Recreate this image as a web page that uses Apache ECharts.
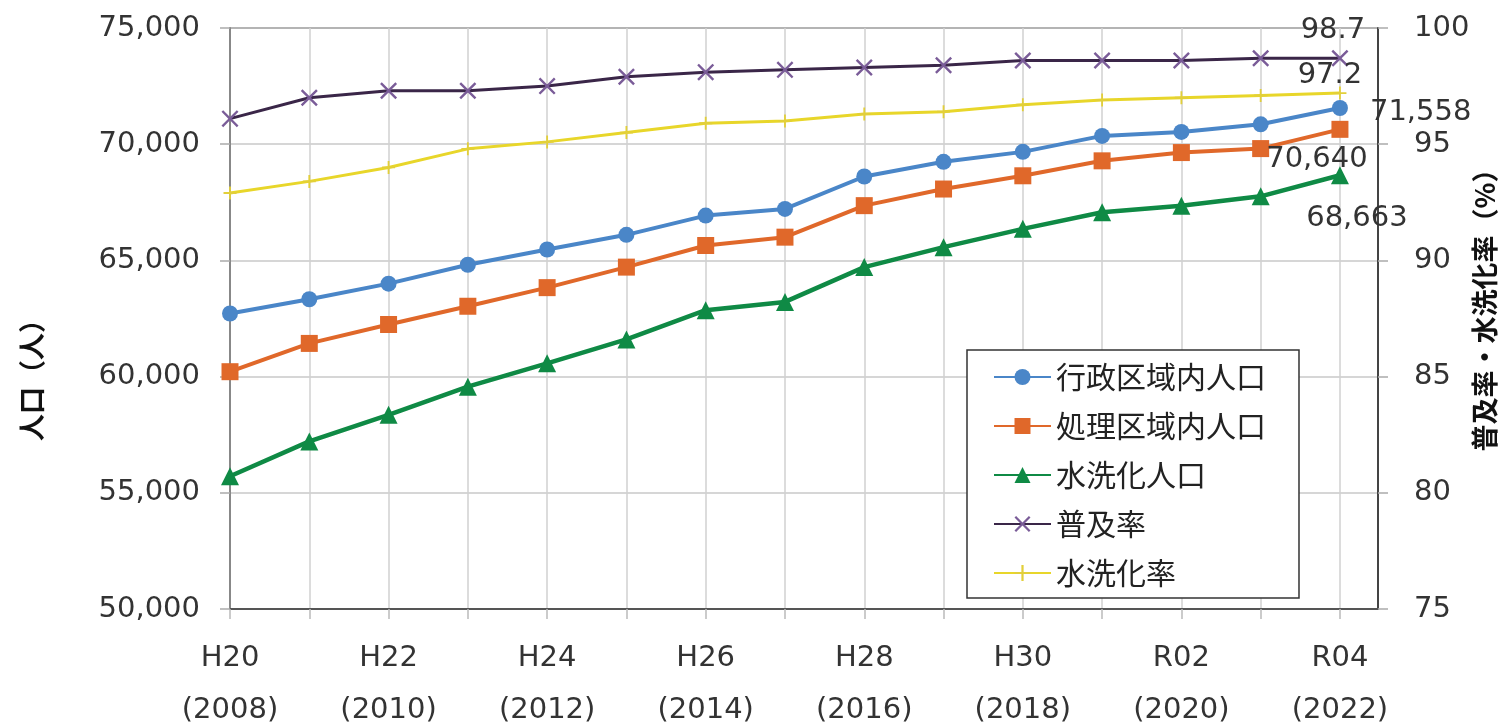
<!DOCTYPE html>
<html>
<head>
<meta charset="utf-8">
<script src="https://cdn.jsdelivr.net/npm/echarts@6/dist/echarts.min.js"></script>
<style>
html,body{margin:0;padding:0;background:#fff;}
#chart{width:1503px;height:724px;}
</style>
</head>
<body>
<div id="chart"></div>
<script>
// ---- data ----
const eras = ['H20','H21','H22','H23','H24','H25','H26','H27','H28','H29','H30','R01','R02','R03','R04'];
const years = ['2008','2009','2010','2011','2012','2013','2014','2015','2016','2017','2018','2019','2020','2021','2022'];
const gyouseiPop = [62714, 63327, 64000, 64814, 65470, 66100, 66927, 67214, 68611, 69241, 69670, 70357, 70528, 70857, 71558];
const shoriPop   = [60211, 61428, 62242, 63027, 63828, 64711, 65641, 66000, 67356, 68071, 68641, 69284, 69640, 69811, 70640];
const suisenPop  = [55711, 57211, 58355, 59568, 60571, 61600, 62857, 63214, 64711, 65570, 66357, 67070, 67356, 67757, 68663];
const fukyuRate  = [96.1, 97.0, 97.3, 97.3, 97.5, 97.9, 98.1, 98.2, 98.3, 98.4, 98.6, 98.6, 98.6, 98.7, 98.7];
const suisenRate = [92.9, 93.4, 94.0, 94.8, 95.1, 95.5, 95.9, 96.0, 96.3, 96.4, 96.7, 96.9, 97.0, 97.1, 97.2];
const seriesNames = ['行政区域内人口','処理区域内人口','水洗化人口','普及率','水洗化率'];
const leftTicks = [50000, 55000, 60000, 65000, 70000, 75000];
const rightTicks = [75, 80, 85, 90, 95, 100];

const FONT = 'DejaVu Sans';
const CJK = '"Noto Sans CJK JP", "DejaVu Sans"';
const fmtNum = v => Number(v).toLocaleString('en-US');

const X_SYM = 'path://M0,1 L1,0 L5,4 L9,0 L10,1 L6,5 L10,9 L9,10 L5,6 L1,10 L0,9 L4,5 Z';
const PLUS_SYM = 'path://M4.3,0 H5.7 V4.3 H10 V5.7 H5.7 V10 H4.3 V5.7 H0 V4.3 H4.3 Z';

function build(values, lastLabel, isRate) {
  return values.map((v, i) => {
    if (i === values.length - 1 && lastLabel) {
      return { value: [i, v], label: Object.assign({
        show: true,
        fontFamily: FONT, fontSize: 29, color: '#333',
        formatter: () => isRate ? v.toFixed(1) : fmtNum(v)
      }, lastLabel) };
    }
    return [i, v];
  });
}

const chart = echarts.init(document.getElementById('chart'), null, {renderer: 'canvas'});
chart.setOption({
  animation: false,
  backgroundColor: '#fff',
  grid: { left: 230, right: 125, top: 28, bottom: 115, outerBoundsMode: 'none', containLabel: false,
          show: true, borderColor: '#777', borderWidth: 2, backgroundColor: 'transparent' },
  legend: {
    orient: 'vertical', left: 967, top: 350,
    padding: [12, 33, 10, 26],
    itemWidth: 57, itemHeight: 20, itemGap: 19,
    borderColor: '#333', borderWidth: 1.5,
    backgroundColor: '#fff',
    textStyle: { fontFamily: CJK, fontSize: 30, color: '#222', lineHeight: 30 },
    data: seriesNames
  },
  xAxis: {
    type: 'value', min: 0, max: 14.48, interval: 1,
    axisLine: { show: true, lineStyle: { color: '#555', width: 2 } },
    axisTick: { show: true, length: 10, lineStyle: { color: '#bbb', width: 1.5 } },
    splitLine: { show: true, lineStyle: { color: '#d0d0d0', width: 1.5 } },
    axisLabel: {
      margin: 23, fontFamily: FONT, fontSize: 29, color: '#333', lineHeight: 52,
      showMaxLabel: false,
      formatter: v => (Number.isInteger(v) && v % 2 === 0 && eras[v]) ? eras[v] + '\n(' + years[v] + ')' : ''
    }
  },
  yAxis: [
    {
      type: 'value', min: leftTicks[0], max: leftTicks[leftTicks.length - 1], interval: 5000,
      name: '人口（人）', nameLocation: 'middle', nameRotate: 90, nameGap: 185, nameMoveOverlap: false,
      nameTextStyle: { fontFamily: CJK, fontSize: 27, fontWeight: 'bold', color: '#111', padding: [0, 110, 0, 0] },
      axisLine: { show: true, lineStyle: { color: '#888', width: 2 } },
      axisTick: { show: true, length: 10, lineStyle: { color: '#aaa', width: 1.5 } },
      splitLine: { show: true, lineStyle: { color: '#c8c8c8', width: 1.5 } },
      axisLabel: { margin: 30, fontFamily: FONT, fontSize: 29, color: '#333', formatter: v => fmtNum(v) }
    },
    {
      type: 'value', min: rightTicks[0], max: rightTicks[rightTicks.length - 1], interval: 5,
      name: '普及率・水洗化率（%）', nameLocation: 'middle', nameRotate: 90, nameGap: 93, nameMoveOverlap: false,
      nameTextStyle: { fontFamily: CJK, fontSize: 27, fontWeight: 'bold', color: '#111', padding: [0, 0, 0, 30] },
      axisLine: { show: true, lineStyle: { color: '#444', width: 2 } },
      axisTick: { show: true, length: 10, lineStyle: { color: '#aaa', width: 1.5 } },
      splitLine: { show: false },
      axisLabel: { margin: 36, fontFamily: FONT, fontSize: 29, color: '#333' }
    }
  ],
  series: [
    {
      name: seriesNames[0], type: 'line', yAxisIndex: 0,
      data: build(gyouseiPop, { position: 'right', distance: 22, offset: [0, 4] }, false),
      symbol: 'circle', symbolSize: 16,
      lineStyle: { color: '#4a86c8', width: 4 },
      itemStyle: { color: '#4a86c8' }
    },
    {
      name: seriesNames[1], type: 'line', yAxisIndex: 0,
      data: build(shoriPop, { position: 'bottom', distance: 7, offset: [-23, 0] }, false),
      symbol: 'rect', symbolSize: 17,
      lineStyle: { color: '#e0682a', width: 4 },
      itemStyle: { color: '#e0682a' }
    },
    {
      name: seriesNames[2], type: 'line', yAxisIndex: 0,
      data: build(suisenPop, { position: 'bottom', distance: 20, offset: [17, 0] }, false),
      symbol: 'triangle', symbolSize: 18,
      lineStyle: { color: '#0f8a45', width: 4.5 },
      itemStyle: { color: '#0f8a45' }
    },
    {
      name: seriesNames[3], type: 'line', yAxisIndex: 1,
      data: build(fukyuRate, { position: 'top', distance: 5, offset: [-7, 0] }, true),
      symbol: X_SYM, symbolSize: 17,
      lineStyle: { color: '#3a2648', width: 3 },
      itemStyle: { color: '#7a5c98' }
    },
    {
      name: seriesNames[4], type: 'line', yAxisIndex: 1,
      data: build(suisenRate, { position: 'top', distance: 4, offset: [-10, 7] }, true),
      symbol: PLUS_SYM, symbolSize: 13,
      lineStyle: { color: '#e8d62a', width: 3 },
      itemStyle: { color: '#e2cf3a' }
    }
  ]
});
</script>
</body>
</html>
